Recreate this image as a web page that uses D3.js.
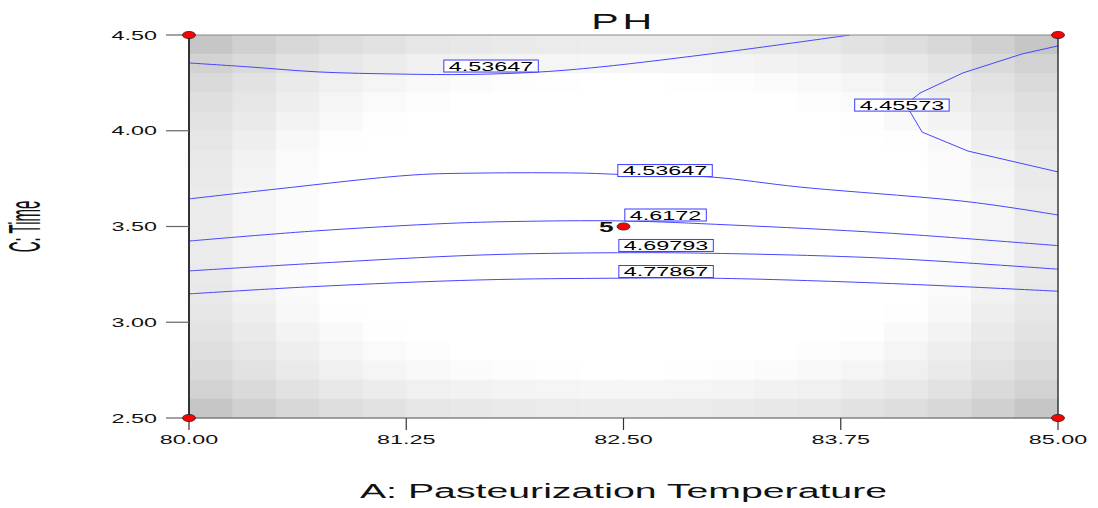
<!DOCTYPE html>
<html>
<head>
<meta charset="utf-8">
<script src="https://cdn.jsdelivr.net/npm/d3@7"></script>
<style>
  body { margin: 0; background: #fff; }
  text { font-family: "Liberation Sans", Arial, sans-serif; }
</style>
</head>
<body>
<svg id="chart"></svg>
<script>
// Axis ticks
const xTicks = [80, 81.25, 82.5, 83.75, 85];
const yTicks = [2.5, 3.0, 3.5, 4.0, 4.5];

// Standard-error shading, one quadrant (rows from the outer edge, cols from the outer edge), darkness 0..255
const seQuadrant = [
  [57, 47, 39, 33, 29, 25, 23, 21, 20, 19],
  [45, 37, 29, 23, 19, 15, 13, 11, 10, 9],
  [37, 29, 21, 15, 10, 6, 4, 2, 1, 0],
  [32, 25, 17, 10, 5, 2, 0, 0, 0, 0],
  [28, 21, 12, 6, 1, 0, 0, 0, 0, 0],
  [25, 17, 7, 1, 0, 0, 0, 0, 0, 0],
  [22, 13, 5, 0, 0, 0, 0, 0, 0, 0],
  [21, 11, 4, 0, 0, 0, 0, 0, 0, 0],
  [20, 10, 4, 0, 0, 0, 0, 0, 0, 0],
  [20, 10, 4, 0, 0, 0, 0, 0, 0, 0]
];

// Contour levels and their polylines [A, C]
const levels = [4.53647, 4.45573, 4.53647, 4.6172, 4.69793, 4.77867];
const contourUpper = [[80.0, 4.354], [80.351, 4.333], [80.748, 4.307], [81.214, 4.296], [81.617, 4.294],
  [82.020, 4.307], [82.365, 4.333], [83.084, 4.411], [83.803, 4.500]];
const contourCorner = [[85.0, 4.443], [84.793, 4.401], [84.453, 4.302], [84.206, 4.197], [84.12, 4.134],
  [84.150, 4.098], [84.218, 3.993], [84.482, 3.894], [85.0, 3.785]];
const contourMid = [[80.0, 3.644], [80.506, 3.696], [81.289, 3.769], [81.674, 3.779], [82.250, 3.779],
  [82.480, 3.772], [83.009, 3.758], [83.516, 3.706], [84.494, 3.628], [85.0, 3.560]];
const contour4617 = [[80.0, 3.424], [80.713, 3.476], [81.484, 3.516], [81.864, 3.526], [82.497, 3.529],
  [83.113, 3.508], [84.016, 3.466], [85.0, 3.400]];
const contour4698 = [[80.0, 3.268], [80.713, 3.307], [81.674, 3.351], [82.462, 3.363], [83.009, 3.360],
  [84.016, 3.334], [85.0, 3.277]];
const contour4779 = [[80.0, 3.148], [80.713, 3.186], [81.674, 3.221], [82.462, 3.230], [83.009, 3.230],
  [84.016, 3.203], [85.0, 3.162]];
const contourLines = [contourUpper, contourCorner, contourMid, contour4617, contour4698, contour4779];
// label anchor (centre) for each level
const labelPos = [[81.738, 4.338], [84.102, 4.134], [82.739, 3.792], [82.742, 3.560], [82.745, 3.401], [82.745, 3.265]];

// Design points [A, C, runs]
const designPoints = [[80, 2.5, 1], [80, 4.5, 1], [85, 2.5, 1], [85, 4.5, 1], [82.5, 3.5, 5]];

const width = 1098, height = 508;
const margin = { top: 35, right: 40, bottom: 90, left: 189 };
const innerW = width - margin.left - margin.right;   // 869
const innerH = height - margin.top - margin.bottom;  // 383
const sx = 1.87; // horizontal stretch of lettering

const svg = d3.select('#chart').attr('width', width).attr('height', height);

const x = d3.scaleLinear().domain([80, 85]).range([0, innerW]);
const y = d3.scaleLinear().domain([2.5, 4.5]).range([innerH, 0]);
const shade = d3.scaleLinear().domain([0, 255]).range(['#ffffff', '#000000']);

const g = svg.append('g').attr('transform', `translate(${margin.left},${margin.top})`);

g.append('defs').append('clipPath').attr('id', 'clip')
  .append('rect').attr('width', innerW).attr('height', innerH);

// shading grid 20 x 20, mirrored from the quadrant
const n = 20;
const cells = [];
for (let r = 0; r < n; r++) {
  for (let c = 0; c < n; c++) {
    cells.push({ r, c, v: seQuadrant[Math.min(r, n - 1 - r)][Math.min(c, n - 1 - c)] });
  }
}
const cx = d3.scaleLinear().domain([0, n]).range([x(80), x(85)]);
const cy = d3.scaleLinear().domain([0, n]).range([y(4.5), y(2.5)]);
g.append('g').selectAll('rect').data(cells).join('rect')
  .attr('x', d => cx(d.c))
  .attr('y', d => cy(d.r))
  .attr('width', cx(1) - cx(0) + 0.5)
  .attr('height', cy(1) - cy(0) + 0.5)
  .attr('fill', d => shade(d.v));

// contours
const line = d3.line()
  .x(d => x(d[0]))
  .y(d => y(d[1]));

g.append('g').attr('clip-path', 'url(#clip)')
  .selectAll('path').data(contourLines).join('path')
  .attr('d', (d, i) => line.curve(i === 1 ? d3.curveLinear : d3.curveCatmullRom)(d))
  .attr('fill', 'none')
  .attr('stroke', '#4646ff')
  .attr('stroke-width', 1);

// contour labels
const labelG = g.append('g');
levels.forEach((lv, i) => {
  const px = x(labelPos[i][0]), py = y(labelPos[i][1]);
  const lg = labelG.append('g');
  const box = lg.append('rect');
  const t = lg.append('text')
    .attr('transform', `translate(${px},${py + 4.5}) scale(${sx},1)`)
    .attr('text-anchor', 'middle')
    .attr('font-size', 12.5)
    .attr('fill', '#000')
    .text(lv);
  const w = t.node().getComputedTextLength() * sx + 10;
  box.attr('x', px - w / 2).attr('y', py - 6).attr('width', w).attr('height', 12)
    .attr('fill', '#fff').attr('stroke', '#3a3aff').attr('stroke-width', 1);
});

// frame
g.append('line').attr('x1', 0).attr('x2', innerW).attr('y1', 0).attr('y2', 0)
  .attr('stroke', '#8a8a8a').attr('stroke-width', 1.2);
g.append('line').attr('x1', innerW).attr('x2', innerW).attr('y1', 0).attr('y2', innerH)
  .attr('stroke', '#111').attr('stroke-width', 1.2);
g.append('line').attr('x1', 0).attr('x2', innerW).attr('y1', innerH).attr('y2', innerH)
  .attr('stroke', '#555').attr('stroke-width', 1.2);
g.append('line').attr('x1', 0).attr('x2', 0).attr('y1', 0).attr('y2', innerH)
  .attr('stroke', '#333').attr('stroke-width', 2);

// y ticks
const fmt = d3.format('.2f');
const yT = g.append('g');
yT.selectAll('line').data(yTicks).join('line')
  .attr('x1', -23).attr('x2', 0)
  .attr('y1', d => y(d)).attr('y2', d => y(d))
  .attr('stroke', '#666').attr('stroke-width', 1.2);
yT.selectAll('text').data(yTicks).join('text')
  .attr('transform', d => `translate(-32,${y(d) + 4.5}) scale(${sx},1)`)
  .attr('text-anchor', 'end')
  .attr('font-size', 12.5)
  .attr('fill', '#111')
  .text(fmt);

// x ticks
const xT = g.append('g');
xT.selectAll('line').data(xTicks).join('line')
  .attr('x1', d => x(d)).attr('x2', d => x(d))
  .attr('y1', innerH).attr('y2', innerH + 12)
  .attr('stroke', '#333').attr('stroke-width', 1.2);
xT.selectAll('text').data(xTicks).join('text')
  .attr('transform', d => `translate(${x(d)},${innerH + 26}) scale(${sx},1)`)
  .attr('text-anchor', 'middle')
  .attr('font-size', 12.5)
  .attr('fill', '#111')
  .text(fmt);

// design points
g.append('g').selectAll('ellipse').data(designPoints).join('ellipse')
  .attr('cx', d => x(d[0])).attr('cy', d => y(d[1]))
  .attr('rx', 6.5).attr('ry', 3.6)
  .attr('fill', '#ff0000').attr('stroke', '#222').attr('stroke-width', 0.8);
g.append('g').selectAll('text').data(designPoints.filter(d => d[2] > 1)).join('text')
  .attr('transform', d => `translate(${x(d[0]) - 10},${y(d[1]) + 5}) scale(${sx},1)`)
  .attr('text-anchor', 'end')
  .attr('font-size', 14)
  .attr('font-weight', 'bold')
  .attr('fill', '#111')
  .text(d => d[2]);

// title and axis titles
svg.append('text')
  .attr('transform', `translate(${margin.left + innerW / 2},29) scale(${sx},1)`)
  .attr('text-anchor', 'middle')
  .attr('font-size', 22)
  .attr('letter-spacing', 2)
  .attr('fill', '#111')
  .text('PH');

svg.append('text')
  .attr('transform', `translate(${margin.left + innerW / 2},498) scale(${sx},1)`)
  .attr('text-anchor', 'middle')
  .attr('font-size', 21)
  .attr('fill', '#111')
  .text('A:  Pasteurization Temperature');

svg.append('text')
  .attr('transform', `translate(40,${margin.top + innerH / 2}) scale(2.9,1) rotate(-90)`)
  .attr('text-anchor', 'middle')
  .attr('font-size', 15)
  .attr('fill', '#111')
  .text('C: Time');
</script>
</body>
</html>
